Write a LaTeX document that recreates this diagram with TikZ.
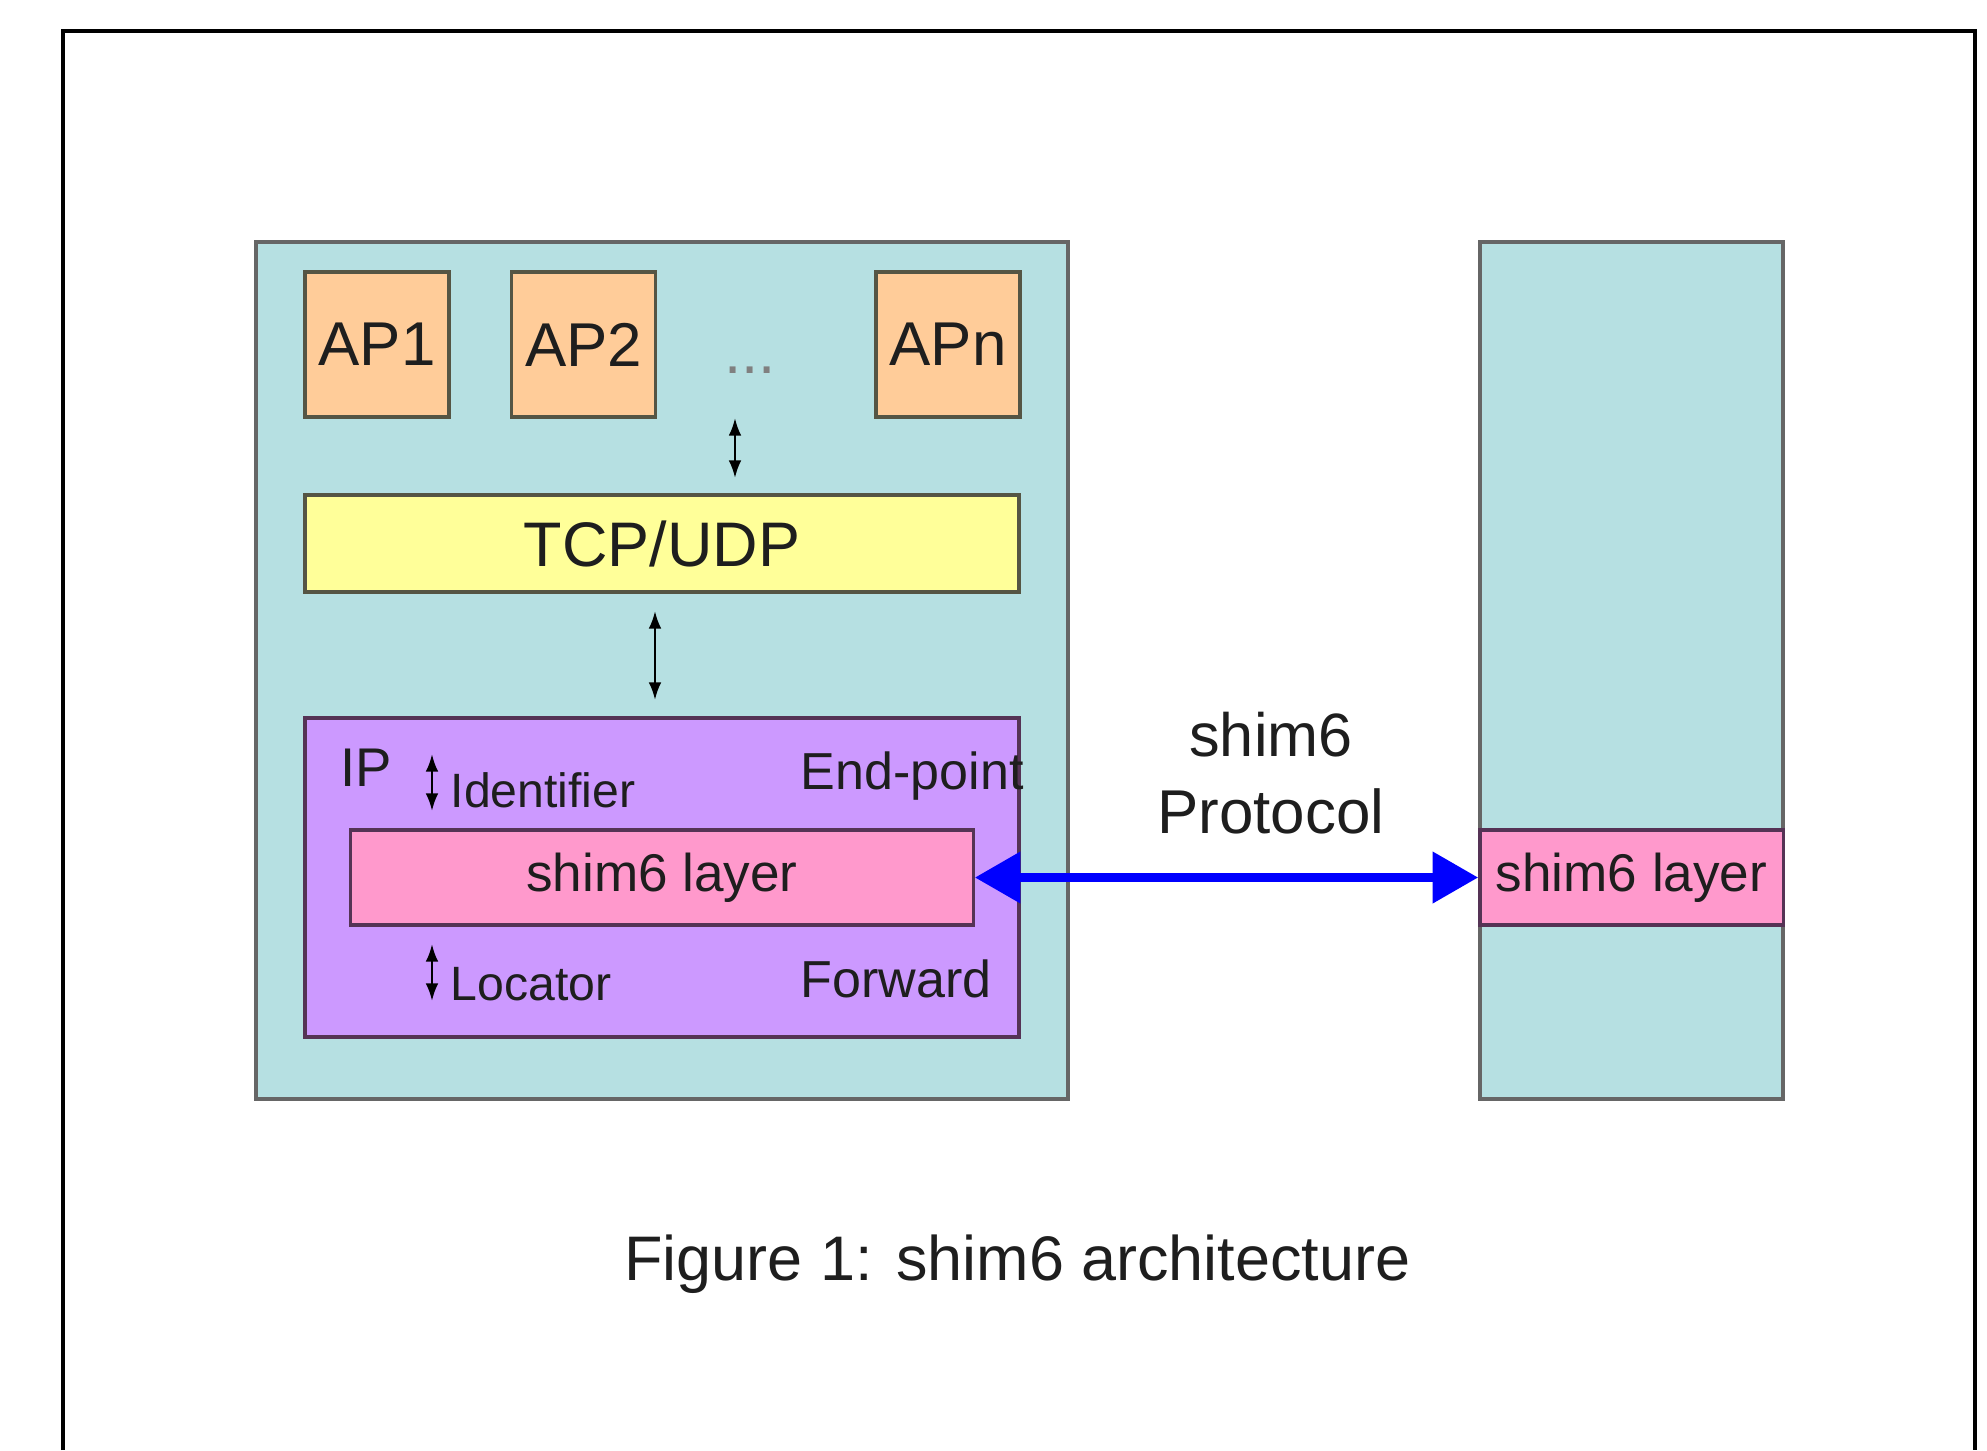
\documentclass[tikz,border=0pt]{standalone}
\usepackage{fontspec}
\setmainfont{Liberation Sans}
\usepackage{tikz}
\usetikzlibrary{positioning,arrows.meta}
\definecolor{hostfill}{RGB}{182,224,226}
\definecolor{apfill}{RGB}{255,204,153}
\definecolor{tcpfill}{RGB}{255,255,153}
\definecolor{ipfill}{RGB}{204,153,255}
\definecolor{shimfill}{RGB}{255,153,204}
\definecolor{hostline}{RGB}{102,102,102}
\definecolor{apline}{RGB}{85,85,68}
\definecolor{ipline}{RGB}{85,51,85}
\definecolor{protoblue}{RGB}{0,0,255}
\definecolor{txt}{RGB}{30,30,30}
\newcommand{\fs}[1]{\fontsize{#1}{#1}\selectfont}

\begin{document}
\begin{tikzpicture}[x=0.01cm, y=-0.01cm, text=txt,
  host/.style={draw=hostline, line width=1.1pt, fill=hostfill, inner sep=0pt, minimum height=8.57cm},
  ap/.style={draw=apline, line width=1.1pt, fill=apfill, inner sep=0pt, minimum width=1.44cm, minimum height=1.45cm, font=\fs{17.6}},
  shim/.style={draw=ipline, line width=0.9pt, fill=shimfill, inner sep=0pt, minimum height=0.95cm, font=\fs{15.1}},
  lbl/.style={anchor=base west, inner sep=0pt},
  updown/.style={line width=0.7pt, arrows={Latex[length=5pt,width=3.6pt]-Latex[length=5pt,width=3.6pt]}},
  proto/.style={line width=2.8pt, draw=protoblue, arrows={Triangle[length=13pt,width=14pt]-Triangle[length=13pt,width=14pt]}}]
  \useasboundingbox (0,0) rectangle (1987,1450);
  \draw[line width=1.15pt] (63,1450) -- (63,31) -- (1975,31) -- (1975,1450);

  \node[host, minimum width=8.12cm] (hosta) at (662,670.5) {};
  \node[host, minimum width=3.03cm] (hostb) at (1631.5,670.5) {};

  \node[ap] (ap1) at (377,344.5) {AP1};
  \node[ap] (ap2) at (583.5,344.5) {AP2};
  \node[ap] (apn) at (948,344.5) {APn};
  \node[anchor=base, inner sep=0pt, text=gray, font=\fs{17.6}] (dots) at (750,373) {...};

  \node[draw=apline, line width=1.1pt, fill=tcpfill, inner sep=0pt, minimum width=7.14cm, minimum height=0.97cm, font=\fs{17.9}] (tcp) at (662,543.5) {TCP/UDP};

  \node[draw=ipline, line width=1.1pt, fill=ipfill, inner sep=0pt, minimum width=7.14cm, minimum height=3.19cm] (ip) at (662,877.5) {};
  \node[shim, minimum width=6.22cm] (shima) at (662,877.5) {shim6 layer};
  \node[shim, minimum width=3.03cm] (shimb) at (1631.5,877.5) {shim6 layer};

  \node[lbl, font=\fs{15.5}] (iptxt) at (340,786) {IP};
  \node[lbl, font=\fs{13.7}] (ident) at (450,807) {Identifier};
  \node[lbl, font=\fs{14.8}] (endpt) at (800,789) {End-point};
  \node[lbl, font=\fs{13.7}] (locator) at (450,1000) {Locator};
  \node[lbl, font=\fs{14.8}] (fwd) at (800,997) {Forward};

  \node[anchor=base, inner sep=0pt, font=\fs{17.4}] (shimtxt) at (1271,756) {shim6};
  \node[anchor=base, inner sep=0pt, font=\fs{17.6}] (prototxt) at (1271,833) {Protocol};

  \node[anchor=base, inner sep=0pt, font=\fs{17.9}] (caption) at (1017.5,1280) {Figure 1: shim6 architecture};

  \coordinate (aptop) at (735,418);
  \coordinate (apbot) at (735,478);
  \coordinate (tcpio) at (655,0);
  \coordinate (idtop) at (432,754);
  \coordinate (idbot) at (432,811);
  \coordinate (loctop) at (432,944);
  \coordinate (locbot) at (432,1001);

  \draw[updown] (aptop) -- (apbot);
  \draw[updown, shorten <=0.17cm, shorten >=0.16cm] (tcp.south -| tcpio) -- (ip.north -| tcpio);
  \draw[updown] (idtop) -- (idbot);
  \draw[updown] (loctop) -- (locbot);
  \draw[proto] (shima.east) -- (shimb.west);
\end{tikzpicture}
\end{document}
